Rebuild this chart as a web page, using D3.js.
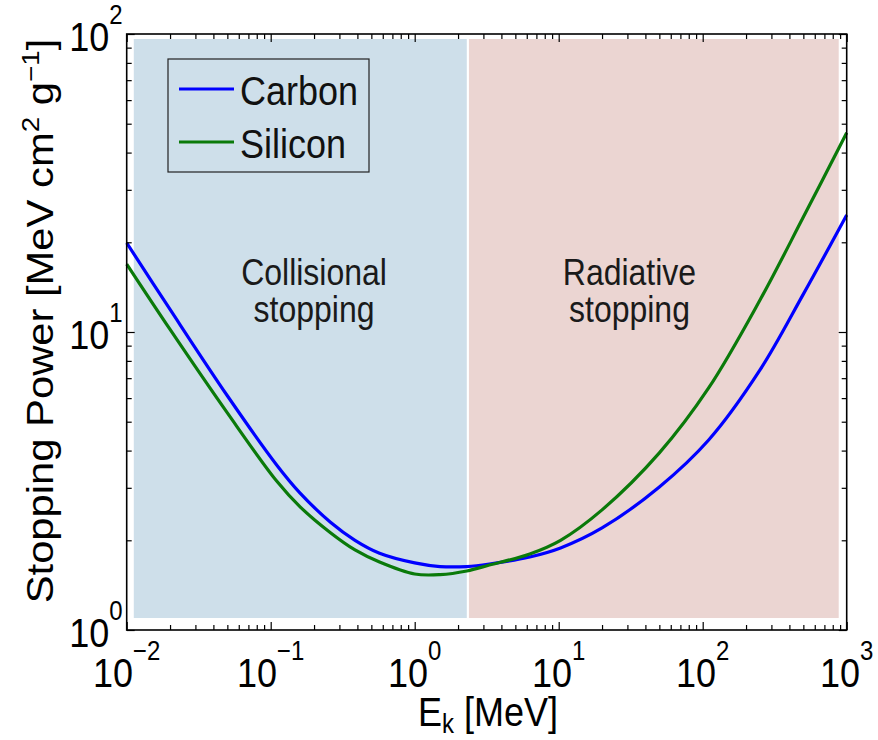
<!DOCTYPE html>
<html>
<head>
<meta charset="utf-8">
<script src="https://cdn.jsdelivr.net/npm/d3@7"></script>
<style>
  body { margin: 0; background: #fff; }
  text { font-family: "Liberation Sans", Arial, Helvetica, sans-serif; }
</style>
</head>
<body>
<div id="main"></div>
<script>
// energies (MeV) and stopping powers (MeV cm^2/g)
var energy  = [0.01, 0.02, 0.05, 0.11, 0.16, 0.26, 0.385, 0.57, 1.0, 1.5, 2.3, 3.3, 6.3, 10.3, 20, 50, 110, 250, 500, 1000];
var carbon  = [19.9, 11.9, 6.11, 3.58, 2.88, 2.30, 2.00, 1.81, 1.68, 1.633, 1.633, 1.665, 1.758, 1.885, 2.20, 3.02, 4.34, 7.46, 13.4, 24.7];
var silicon = [16.9, 10.2, 5.35, 3.16, 2.59, 2.12, 1.856, 1.69, 1.541, 1.534, 1.578, 1.652, 1.80, 2.00, 2.53, 3.93, 6.49, 12.8, 24.3, 46.6];

var seriesNames = ["Carbon", "Silicon"];

// shaded regions (MeV)
var regionStart = [0.0112, 2.38];
var regionEnd   = [2.30, 880];
var regionTop = 96.2, regionBottom = 1.097;
var regionLines = [["Collisional", "stopping"], ["Radiative", "stopping"]];

var xMajor = [-2, -1, 0, 1, 2, 3];   // exponents
var yMajor = [0, 1, 2];

var svgWidth = 878, svgHeight = 740;
var plotL = 126.7, plotR = 846.7, plotT = 34, plotB = 630;
var stretch = 1.14; // text in the picture is a bit taller than wide

var colors = ["#0000ff", "#0a7a0a"];
var regionColors = ["#cedfea", "#ebd5d2"];

var svg = d3.select("#main").append("svg")
  .attr("width", svgWidth)
  .attr("height", svgHeight);

var x = d3.scaleLog().domain([1e-2, 1e3]).range([plotL, plotR]);
var y = d3.scaleLog().domain([1, 100]).range([plotB, plotT]);

// background regions
regionStart.forEach(function(s, i) {
  svg.append("rect")
    .attr("x", x(s))
    .attr("y", y(regionTop))
    .attr("width", x(regionEnd[i]) - x(s))
    .attr("height", y(regionBottom) - y(regionTop))
    .style("fill", regionColors[i]);
});

// region labels
var labelE = [0.2, 31], labelS = 14.4;
regionLines.forEach(function(lines, i) {
  var t = svg.append("text")
    .attr("transform", "translate(" + x(labelE[i]) + "," + y(labelS) + ") scale(1," + stretch + ")")
    .attr("text-anchor", "middle")
    .style("font-size", "32px")
    .style("fill", "#1a1a1a");
  lines.forEach(function(l, j) {
    t.append("tspan").attr("x", 0).attr("dy", j === 0 ? 0 : 33).text(l);
  });
});

// curves
var line = d3.line()
  .x(function(d) { return x(d[0]); })
  .y(function(d) { return y(d[1]); })
  .curve(d3.curveCatmullRom.alpha(0.5));

[carbon, silicon].forEach(function(vals, i) {
  svg.append("path")
    .attr("d", line(energy.map(function(e, k) { return [e, vals[k]]; })))
    .style("fill", "none")
    .style("stroke", colors[i])
    .style("stroke-width", 3.2);
});

// ticks
var xMinor = [], yMinor = [];
xMajor.slice(0, -1).forEach(function(p) {
  for (var k = 2; k < 10; k++) xMinor.push(k * Math.pow(10, p));
});
yMajor.slice(0, -1).forEach(function(p) {
  for (var k = 2; k < 10; k++) yMinor.push(k * Math.pow(10, p));
});
var xMajVals = xMajor.map(function(p) { return Math.pow(10, p); });
var yMajVals = yMajor.map(function(p) { return Math.pow(10, p); });

function ticks(axis, scale, vals, size, pos) {
  var g = svg.append("g")
    .attr("transform", pos)
    .call(axis(scale).tickValues(vals).tickSize(-size).tickSizeOuter(0).tickFormat(""));
  g.select(".domain").remove();
  g.selectAll("line").style("stroke", "#000").style("stroke-width", 1.2);
}
ticks(d3.axisBottom, x, xMajVals, 8, "translate(0," + plotB + ")");
ticks(d3.axisBottom, x, xMinor, 5, "translate(0," + plotB + ")");
ticks(d3.axisTop, x, xMajVals, 8, "translate(0," + plotT + ")");
ticks(d3.axisTop, x, xMinor, 5, "translate(0," + plotT + ")");
ticks(d3.axisLeft, y, yMajVals, 8, "translate(" + plotL + ",0)");
ticks(d3.axisLeft, y, yMinor, 5, "translate(" + plotL + ",0)");
ticks(d3.axisRight, y, yMajVals, 8, "translate(" + plotR + ",0)");
ticks(d3.axisRight, y, yMinor, 5, "translate(" + plotR + ",0)");

// frame
svg.append("rect")
  .attr("x", plotL).attr("y", plotT)
  .attr("width", plotR - plotL).attr("height", plotB - plotT)
  .style("fill", "none").style("stroke", "#000").style("stroke-width", 1.6);

// tick labels with superscripts
function powLabel(px, py, p, anchor) {
  var t = svg.append("text")
    .attr("transform", "translate(" + px + "," + py + ") scale(1," + stretch + ")")
    .attr("text-anchor", anchor)
    .style("font-size", "36px")
    .style("fill", "#000");
  t.append("tspan").text("10");
  t.append("tspan").attr("dy", -24).style("font-size", "24px")
    .text(p < 0 ? "\u2212" + (-p) : String(p));
}
xMajor.forEach(function(p) { powLabel(x(Math.pow(10, p)), 687, p, "middle"); });
yMajor.forEach(function(p) { powLabel(plotL - 4, y(Math.pow(10, p)) + 17, p, "end"); });

// axis titles
var xt = svg.append("text")
  .attr("transform", "translate(488,726) scale(1," + stretch + ")")
  .attr("text-anchor", "middle")
  .style("font-size", "36px");
xt.append("tspan").text("E");
xt.append("tspan").attr("dy", 6).style("font-size", "24px").text("k");
xt.append("tspan").attr("dy", -6).text(" [MeV]");

var yt = svg.append("text")
  .attr("transform", "translate(53,321) rotate(-90) scale(1.16,1)")
  .attr("text-anchor", "middle")
  .style("font-size", "36px");
yt.append("tspan").text("Stopping Power [MeV cm");
yt.append("tspan").attr("dy", -14).style("font-size", "24px").text("2");
yt.append("tspan").attr("dy", 14).text(" g");
yt.append("tspan").attr("dy", -14).style("font-size", "24px").text("\u22121");
yt.append("tspan").attr("dy", 14).text("]");

// legend
var lg = svg.append("g");
lg.append("rect")
  .attr("x", 168).attr("y", 59).attr("width", 201).attr("height", 113)
  .style("fill", "none").style("stroke", "#222").style("stroke-width", 1.2);
seriesNames.forEach(function(name, i) {
  var ly = 89 + i * 53;
  lg.append("line")
    .attr("x1", 179).attr("x2", 234).attr("y1", ly).attr("y2", ly)
    .style("stroke", colors[i]).style("stroke-width", 3.2);
  lg.append("text")
    .attr("transform", "translate(240," + (ly + 16) + ") scale(1," + stretch + ")")
    .style("font-size", "36px")
    .style("fill", "#111")
    .text(name);
});
</script>
</body>
</html>
